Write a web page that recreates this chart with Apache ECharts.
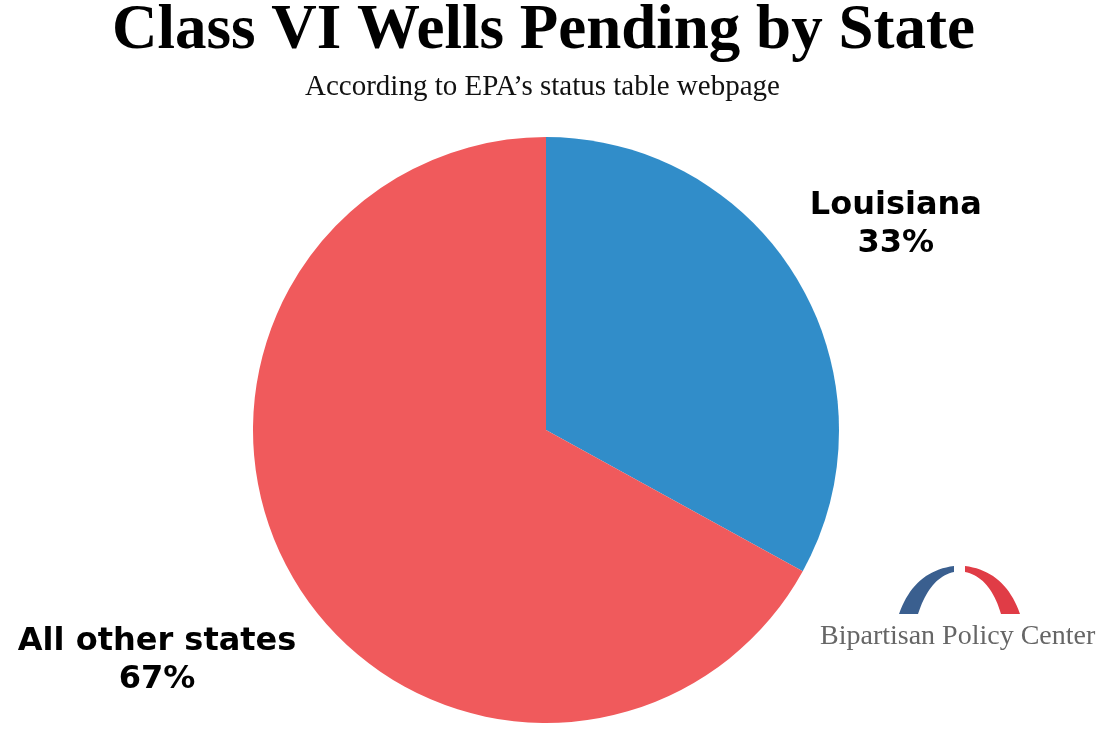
<!DOCTYPE html>
<html>
<head>
<meta charset="utf-8">
<script src="https://cdn.jsdelivr.net/npm/echarts@6/dist/echarts.min.js"></script>
<style>
  html, body { margin: 0; padding: 0; background: #fff; }
  #chart { width: 1105px; height: 734px; }
</style>
</head>
<body>
<div id="chart"></div>
<script>
// 数据
const states = ['Louisiana', 'All other states']
const shares = [33, 67]
const colors = ['#318dc9', '#f05a5c']
// 标签离扇区外沿的距离
const labelGap = [110, 160]

// logo 弧形：二次贝塞尔曲线取点
const quad = (p0, p1, p2, n) => {
  const pts = []
  for (let i = 0; i <= n; i++) {
    const t = i / n
    const a = (1 - t) * (1 - t), b = 2 * (1 - t) * t, c = t * t
    pts.push([a * p0[0] + b * p1[0] + c * p2[0], a * p0[1] + b * p1[1] + c * p2[1]])
  }
  return pts
}
const bluePts = quad([899, 614], [914, 571], [954, 566], 20)
  .concat(quad([954, 572], [930, 577], [918, 614], 20))
const redPts = quad([965, 566], [1005, 571], [1020, 614], 20)
  .concat(quad([1001, 614], [990, 577], [965, 572], 20))

const chart = echarts.init(document.getElementById('chart'))

const option = {
  backgroundColor: '#fff',
  animation: false,
  title: [
    {
      text: 'Class VI Wells Pending by State',
      left: 107,
      top: -5,
      textStyle: {
        fontFamily: 'Liberation Serif',
        fontWeight: 'bold',
        fontSize: 63,
        color: '#000'
      }
    },
    {
      text: 'According to EPA’s status table webpage',
      left: 300,
      top: 68,
      textStyle: {
        fontFamily: 'Liberation Serif',
        fontWeight: 'normal',
        fontSize: 29,
        color: '#111'
      }
    }
  ],
  series: [
    {
      type: 'pie',
      center: [546, 430],
      radius: [0, 293],
      startAngle: 90,
      clockwise: true,
      avoidLabelOverlap: false,
      silent: true,
      label: {
        show: true,
        position: 'outside',
        formatter: '{b}\n{d}%',
        fontFamily: 'DejaVu Sans',
        fontWeight: 'bold',
        fontSize: 32,
        lineHeight: 38,
        color: '#000'
      },
      labelLine: { show: false, length2: 0 },
      labelLayout: (p) => ({
        align: 'center',
        verticalAlign: 'middle',
        dx: p.dataIndex === 1 ? 6 : -2
      }),
      data: states.map((name, i) => ({
        name,
        value: shares[i],
        itemStyle: { color: colors[i] },
        labelLine: { length: labelGap[i] }
      }))
    }
  ],
  graphic: [
    {
      type: 'polygon',
      shape: { points: bluePts },
      style: { fill: '#3a5f8f' }
    },
    {
      type: 'polygon',
      shape: { points: redPts },
      style: { fill: '#e03c46' }
    },
    {
      type: 'text',
      left: 820,
      top: 623,
      style: {
        text: 'Bipartisan Policy Center',
        fontFamily: 'Liberation Serif',
        fontSize: 28,
        fill: '#666'
      }
    }
  ]
}

chart.setOption(option)
</script>
</body>
</html>
